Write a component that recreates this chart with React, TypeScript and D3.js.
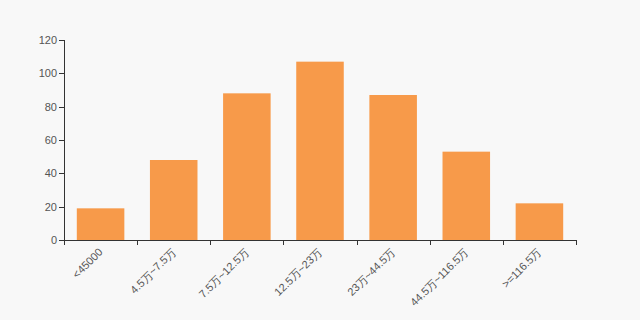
import React from "react";
import * as d3 from "d3";

const categories = ["<45000", "4.5万~7.5万", "7.5万~12.5万", "12.5万~23万", "23万~44.5万", "44.5万~116.5万", ">=116.5万"];
const values = [19, 48, 88, 107, 87, 53, 22];
const yTicks = [0, 20, 40, 60, 80, 100, 120];

const W = 640, H = 320;
const M = { left: 64, right: 64, top: 40, bottom: 80 };

export default function App() {
  const x = d3.scaleBand<string>().domain(categories).range([M.left, W - M.right]).paddingInner(0.35).paddingOuter(0.175);
  const xb = d3.scaleBand<string>().domain(categories).range([M.left, W - M.right]);
  const y = d3.scaleLinear().domain([0, 120]).range([H - M.bottom, M.top]);
  const font = "'Liberation Sans', Arial, sans-serif";
  const axisColor = "#333";
  return (
    <svg width={W} height={H} style={{ position: "absolute", left: 0, top: 0, background: "#f8f8f8" }}>
      <rect x={0} y={0} width={W} height={H} fill="#f8f8f8" />
      {categories.map((c, i) => (
        <rect key={c} x={x(c)} y={y(values[i])} width={x.bandwidth()} height={y(0) - y(values[i])} fill="#f79a4a" />
      ))}
      <line x1={M.left + 0.5} x2={M.left + 0.5} y1={y(120)} y2={y(0)} stroke={axisColor} />
      {yTicks.map(t => (
        <g key={t}>
          <line x1={M.left - 5} x2={M.left} y1={Math.round(y(t)) + 0.5} y2={Math.round(y(t)) + 0.5} stroke={axisColor} />
          <text x={M.left - 7} y={y(t)} dy="0.35em" textAnchor="end" fontSize={11} fill="#555" fontFamily={font}>{t}</text>
        </g>
      ))}
      <line x1={M.left} x2={W - M.right} y1={y(0) + 0.5} y2={y(0) + 0.5} stroke={axisColor} />
      {[...categories.map(c => xb(c) as number), W - M.right].map((px, i) => (
        <line key={i} x1={Math.round(px) + 0.5} x2={Math.round(px) + 0.5} y1={y(0)} y2={y(0) + 5} stroke={axisColor} />
      ))}
      {categories.map(c => {
        const cx = (xb(c) as number) + xb.bandwidth() / 2;
        const ty = y(0) + 10;
        return (
          <text key={c} x={cx} y={ty} dy="0.35em" textAnchor="end" fontSize={11} fill="#555" fontFamily={font}
            transform={`rotate(-45, ${cx}, ${ty})`}>{c}</text>
        );
      })}
    </svg>
  );
}
